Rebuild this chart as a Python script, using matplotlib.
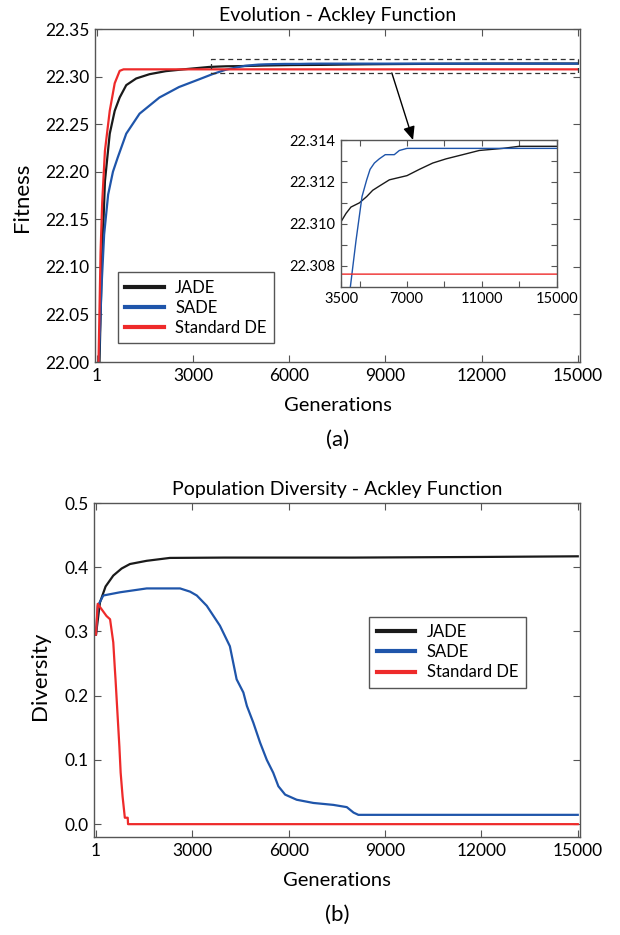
import matplotlib
matplotlib.use("Agg")
import matplotlib.pyplot as plt
from matplotlib.patches import Rectangle

plt.rcParams['font.family'] = ['Lato', 'DejaVu Sans']

# ---------------- data: fitness (a) ----------------
gen_jade_fit = [80, 150, 250, 400, 555, 710, 915, 1225, 1640, 2150, 2670, 3500, 3770, 4030,
                4480, 4870, 5190, 5540, 6080, 7020, 7680, 8390, 9100, 9990, 10870, 12130,
                13000, 15000]
jade_fit = [22.00, 22.10, 22.19, 22.24, 22.264, 22.278, 22.291, 22.298, 22.3025, 22.3057,
            22.3075, 22.3101, 22.3105, 22.3108, 22.3110, 22.3113, 22.3116, 22.3118, 22.3121,
            22.3123, 22.3126, 22.3129, 22.3131, 22.3133, 22.3135, 22.3136, 22.3137, 22.3137]

gen_sade_fit = [60, 145, 225, 350, 500, 650, 915, 1330, 1950, 2560, 3180, 3600, 4000, 4300,
                4620, 4870, 5050, 5280, 5540, 5860, 6340, 6610, 7020, 15000]
sade_fit = [22.00, 22.08, 22.134, 22.176, 22.20, 22.215, 22.24, 22.261, 22.278, 22.289,
            22.297, 22.3025, 22.307, 22.3092, 22.3113, 22.3121, 22.3126, 22.3129, 22.3131,
            22.3133, 22.3133, 22.3135, 22.3136, 22.3136]

gen_de_fit = [50, 114, 165, 250, 400, 555, 710, 830, 15000]
de_fit = [22.00, 22.116, 22.168, 22.222, 22.264, 22.293, 22.306, 22.3076, 22.3076]

# ---------------- data: diversity (b) ----------------
gen_jade_div = [1, 125, 300, 540, 800, 1060, 1580, 2300, 4000, 8000, 12000, 15000]
jade_div = [0.295, 0.345, 0.370, 0.387, 0.398, 0.405, 0.410, 0.4145, 0.415, 0.415, 0.416, 0.417]

gen_sade_div = [1, 60, 230, 750, 1580, 2620, 2930, 3140, 3450, 3860, 4170, 4380, 4590, 4700,
                4900, 5110, 5320, 5520, 5680, 5890, 6250, 6770, 7390, 7810, 8020, 8170, 15000]
sade_div = [0.295, 0.34, 0.356, 0.361, 0.367, 0.367, 0.362, 0.356, 0.34, 0.309, 0.277, 0.2255,
            0.205, 0.184, 0.158, 0.127, 0.100, 0.080, 0.059, 0.046, 0.038, 0.033, 0.030,
            0.0265, 0.018, 0.0145, 0.0145]

gen_de_div = [1, 55, 330, 440, 540, 590, 610, 670, 730, 770, 830, 900, 990, 1000, 15000]
de_div = [0.295, 0.343, 0.324, 0.319, 0.283, 0.241, 0.2255, 0.173, 0.121, 0.080, 0.043,
          0.010, 0.010, 0.0, 0.0]

labels = ["JADE", "SADE", "Standard DE"]
colors = ["#1a1a1a", "#1f55aa", "#ee2a2a"]

xticks = [1, 3000, 6000, 9000, 12000, 15000]
xticklabels = ["1", "3000", "6000", "9000", "12000", "15000"]
fit_yticks = [22.00, 22.05, 22.10, 22.15, 22.20, 22.25, 22.30, 22.35]
div_yticks = [0.0, 0.1, 0.2, 0.3, 0.4, 0.5]

inset_xticks = [3500, 7000, 11000, 15000]
inset_xminor = [4500, 9000, 13000]
inset_yticks = [22.308, 22.310, 22.312, 22.314]
inset_yminor = [22.309, 22.311, 22.313]

SPINE = "#555555"

fig = plt.figure(figsize=(6.2, 9.35), dpi=100)


def style(ax, fs=12.5):
    for s in ax.spines.values():
        s.set_color(SPINE)
        s.set_linewidth(1.0)
    ax.tick_params(direction='in', top=True, right=True, length=5, width=0.8,
                   color=SPINE, labelsize=fs, pad=4)
    ax.tick_params(which='minor', direction='in', top=True, right=True, length=4,
                   width=0.8, color=SPINE)


def legend(ax, **kw):
    leg = ax.legend(borderaxespad=0, fontsize=12, fancybox=False, framealpha=1,
                    edgecolor=SPINE, handlelength=2.3, handletextpad=0.7,
                    labelspacing=0.25, borderpad=0.45, **kw)
    for h in leg.get_lines():
        h.set_linewidth(3)
    leg.get_frame().set_linewidth(1.0)
    return leg


# ---------------- (a) ----------------
ax1 = fig.add_axes([95 / 620, 1 - 362 / 935, 485 / 620, 333 / 935])
ax1.plot(gen_jade_fit, jade_fit, color=colors[0], lw=1.6, label=labels[0])
ax1.plot(gen_sade_fit, sade_fit, color=colors[1], lw=1.6, label=labels[1])
ax1.plot(gen_de_fit, de_fit, color=colors[2], lw=1.6, label=labels[2])
ax1.set_xlim(-60, 15070)
ax1.set_ylim(22.00, 22.35)
ax1.set_xticks(xticks)
ax1.set_xticklabels(xticklabels)
ax1.set_yticks(fit_yticks)
ax1.set_yticklabels([f"{v:.2f}" for v in fit_yticks])
style(ax1)
ax1.set_title("Evolution - Ackley Function", fontsize=14, pad=6)
ax1.set_xlabel("Generations", fontsize=14.5)
ax1.set_ylabel("Fitness", fontsize=16)
ax1.xaxis.set_label_coords(0.5, -0.105)
ax1.yaxis.set_label_coords(-0.13, 0.494)
legend(ax1, loc='lower left', bbox_to_anchor=(0.047, 0.056))

ax1.add_patch(Rectangle((3560, 22.3038), 15000 - 3560, 22.3187 - 22.3038, fill=False,
                        ls=(0, (4, 3)), lw=0.9, edgecolor="#333333", zorder=5))

# inset
axins = fig.add_axes([341 / 620, 1 - 286.7 / 935, 215.7 / 620, 146.7 / 935])
axins.plot(gen_jade_fit, jade_fit, color=colors[0], lw=1.0)
axins.plot(gen_sade_fit, sade_fit, color=colors[1], lw=1.0)
axins.plot(gen_de_fit, de_fit, color=colors[2], lw=1.0)
axins.set_xlim(3500, 15000)
axins.set_ylim(22.307, 22.314)
axins.set_xticks(inset_xticks)
axins.set_xticks(inset_xminor, minor=True)
axins.set_yticks(inset_yticks)
axins.set_yticks(inset_yminor, minor=True)
axins.set_yticklabels([f"{v:.3f}" for v in inset_yticks])
style(axins, fs=10.5)
axins.tick_params(length=4)

ax1.annotate('', xy=(0.334, 1.0), xycoords=axins.transAxes,
             xytext=(9200, 22.3038), textcoords='data',
             arrowprops=dict(arrowstyle='-|>,head_length=0.8,head_width=0.35',
                             color='black', lw=1.0, shrinkA=0, shrinkB=0))

fig.text(337.5 / 620, 1 - 440 / 935, "(a)", fontsize=16, ha='center', va='center')

# ---------------- (b) ----------------
ax2 = fig.add_axes([94 / 620, 1 - 837 / 935, 486 / 620, 334 / 935])
ax2.plot(gen_jade_div, jade_div, color=colors[0], lw=1.6, label=labels[0])
ax2.plot(gen_sade_div, sade_div, color=colors[1], lw=1.6, label=labels[1])
ax2.plot(gen_de_div, de_div, color=colors[2], lw=1.6, label=labels[2])
ax2.set_xlim(-60, 15070)
ax2.set_ylim(-0.02, 0.5)
ax2.set_xticks(xticks)
ax2.set_xticklabels(xticklabels)
ax2.set_yticks(div_yticks)
ax2.set_yticklabels([f"{v:.1f}" for v in div_yticks])
style(ax2)
ax2.set_title("Population Diversity - Ackley Function", fontsize=14, pad=6)
ax2.set_xlabel("Generations", fontsize=14.5)
ax2.set_ylabel("Diversity", fontsize=16)
ax2.xaxis.set_label_coords(0.5, -0.105)
ax2.yaxis.set_label_coords(-0.09, 0.482)
legend(ax2, loc='upper left', bbox_to_anchor=(0.566, 0.660))

fig.text(337.5 / 620, 1 - 915 / 935, "(b)", fontsize=16, ha='center', va='center')

fig.savefig("out.png", dpi=100)
